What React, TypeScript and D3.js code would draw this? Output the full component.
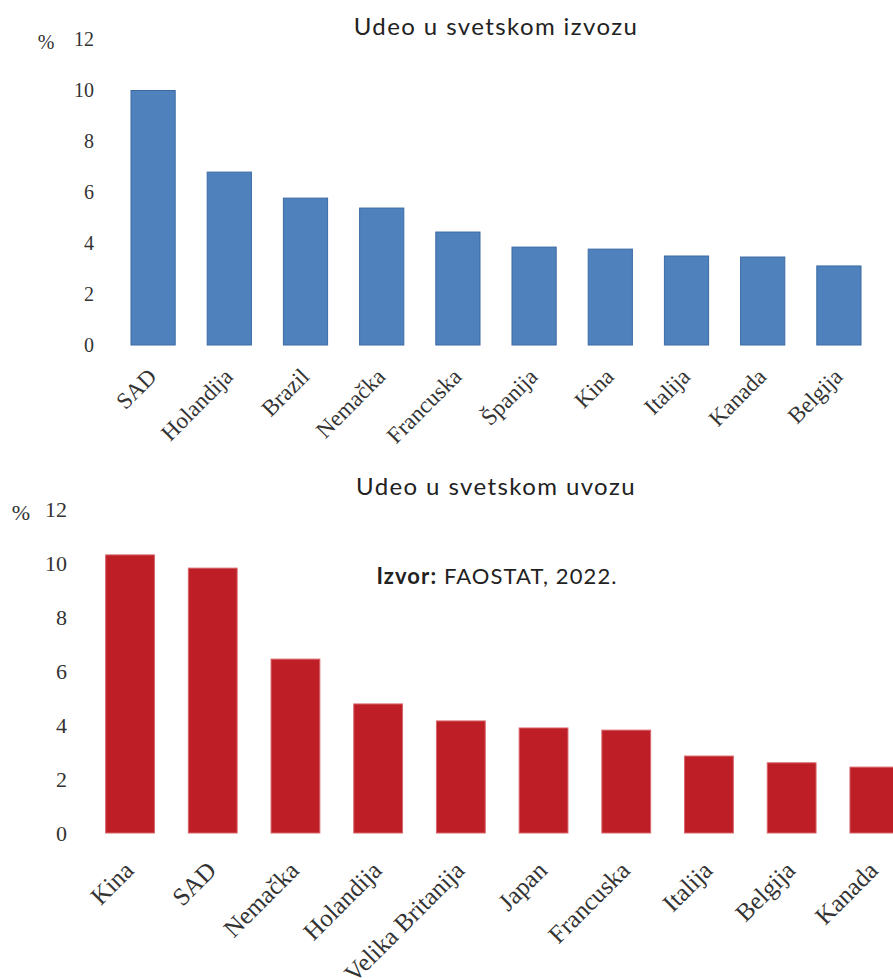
import React from "react";
import * as d3 from "d3";

const exportCountries = ["SAD", "Holandija", "Brazil", "Nemačka", "Francuska", "Španija", "Kina", "Italija", "Kanada", "Belgija"];
const exportShares = [9.98, 6.78, 5.76, 5.37, 4.43, 3.84, 3.76, 3.49, 3.45, 3.1];

const importCountries = ["Kina", "SAD", "Nemačka", "Holandija", "Velika Britanija", "Japan", "Francuska", "Italija", "Belgija", "Kanada"];
const importShares = [10.3, 9.81, 6.44, 4.78, 4.15, 3.89, 3.81, 2.85, 2.6, 2.44];

const yTicks = [0, 2, 4, 6, 8, 10, 12];

const exportTitle = "Udeo u svetskom izvozu";
const importTitle = "Udeo u svetskom uvozu";

const SERIF = "'Liberation Serif', 'Times New Roman', serif";
const SANS = "Lato, 'Open Sans', sans-serif";

type PanelProps = {
  countries: string[];
  values: number[];
  xRange: [number, number];
  yRange: [number, number];
  padding: number;
  fill: string;
  stroke: string;
  tickX: number;
  tickFont: number;
  pctX: number;
  pctY: number;
  labelY: number;
  labelDx: number;
  labelFont: number;
};

function Panel(p: PanelProps) {
  const x = d3.scaleBand<string>().domain(p.countries).range(p.xRange).paddingInner(p.padding).paddingOuter(p.padding / 2);
  const y = d3.scaleLinear().domain([0, 12]).range(p.yRange);
  return (
    <g>
      {p.countries.map((c, i) => (
        <rect
          key={c}
          x={x(c)}
          y={y(p.values[i])}
          width={x.bandwidth()}
          height={y(0) - y(p.values[i])}
          fill={p.fill}
          stroke={p.stroke}
          strokeWidth={1}
        />
      ))}
      {yTicks.map((t) => (
        <text key={t} x={p.tickX} y={y(t)} dy="0.35em" textAnchor="end" fontFamily={SERIF} fontSize={p.tickFont} fill="#333">
          {t}
        </text>
      ))}
      <text x={p.pctX} y={p.pctY} dy="0.35em" textAnchor="middle" fontFamily={SERIF} fontSize={p.tickFont} fill="#333">
        %
      </text>
      {p.countries.map((c) => {
        const cx = (x(c) as number) + x.bandwidth() / 2 + p.labelDx;
        return (
          <text
            key={c}
            x={cx}
            y={p.labelY}
            textAnchor="end"
            transform={`rotate(-45, ${cx}, ${p.labelY})`}
            fontFamily={SERIF}
            fontSize={p.labelFont}
            fill="#333"
          >
            {c}
          </text>
        );
      })}
    </g>
  );
}

export default function App() {
  return (
    <svg width={893} height={980} style={{ position: "absolute", left: 0, top: 0, background: "#fff" }}>
      <text x={496} y={35} textAnchor="middle" fontFamily={SANS} fontSize={24} letterSpacing={1.4} fill="#222">
        {exportTitle}
      </text>
      <Panel
        countries={exportCountries}
        values={exportShares}
        xRange={[115, 877]}
        yRange={[345, 39]}
        padding={0.42}
        fill="#4F81BD"
        stroke="#3B6AA3"
        tickX={94}
        tickFont={20}
        pctX={46}
        pctY={42}
        labelY={378}
        labelDx={5}
        labelFont={23}
      />
      <text x={496} y={495} textAnchor="middle" fontFamily={SANS} fontSize={24} letterSpacing={1.4} fill="#222">
        {importTitle}
      </text>
      <Panel
        countries={importCountries}
        values={importShares}
        xRange={[88.7, 915.7]}
        yRange={[833, 509]}
        padding={0.41}
        fill="#BE1E26"
        stroke="#D8666B"
        tickX={67}
        tickFont={22}
        pctX={21}
        pctY={512}
        labelY={872}
        labelDx={5}
        labelFont={25}
      />
      <text x={497} y={584} textAnchor="middle" fontFamily={SANS} fontSize={22} letterSpacing={1.1} fill="#222">
        <tspan fontWeight="bold">Izvor:</tspan> FAOSTAT, 2022.
      </text>
    </svg>
  );
}
